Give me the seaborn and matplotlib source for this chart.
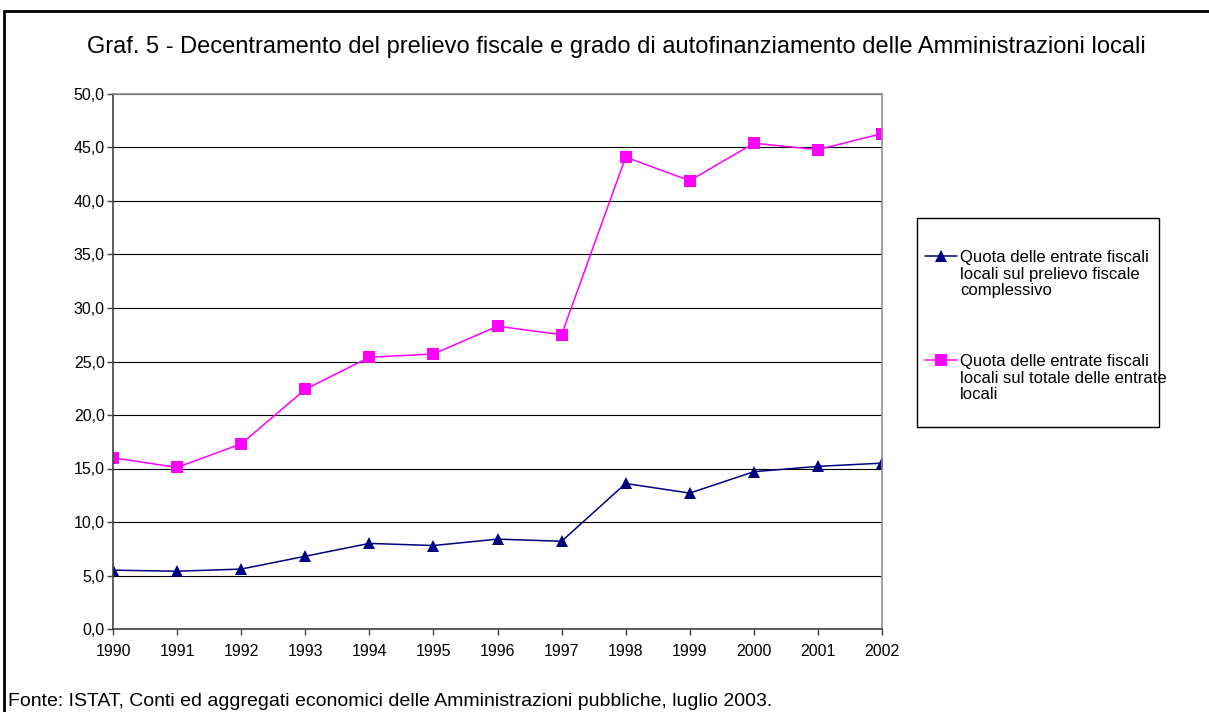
import matplotlib
matplotlib.use("Agg")
import matplotlib.pyplot as plt
import matplotlib.patches as patches
from matplotlib.lines import Line2D
from matplotlib.ticker import FuncFormatter, MultipleLocator
import pandas as pd
import seaborn as sns

years = list(range(1990, 2003))
quota_prelievo = [5.5, 5.4, 5.6, 6.8, 8.0, 7.8, 8.4, 8.2, 13.6, 12.7, 14.7, 15.2, 15.5]
quota_entrate = [16.0, 15.1, 17.3, 22.4, 25.4, 25.7, 28.3, 27.5, 44.1, 41.9, 45.4, 44.8, 46.3]

label_prelievo = "Quota delle entrate fiscali\nlocali sul prelievo fiscale\ncomplessivo"
label_entrate = "Quota delle entrate fiscali\nlocali sul totale delle entrate\nlocali"
title = ("Graf. 5 - Decentramento del prelievo fiscale e grado di autofinanziamento "
         "delle Amministrazioni locali")
source = ("Fonte: ISTAT, Conti ed aggregati economici delle Amministrazioni pubbliche, "
          "luglio 2003.")

df = pd.DataFrame({
    "anno": years * 2,
    "valore": quota_prelievo + quota_entrate,
    "serie": [label_prelievo] * len(years) + [label_entrate] * len(years),
})

sns.set_theme(style="white")
plt.rcParams["font.family"] = ["Liberation Sans", "DejaVu Sans"]
plt.rcParams["text.color"] = "black"

W, H = 1209, 712
fig = plt.figure(figsize=(W / 100, H / 100), dpi=100)
ax = fig.add_axes([113 / W, 1 - 629 / H, (882 - 113) / W, (629 - 94) / H])

sns.lineplot(data=df, x="anno", y="valore", hue="serie", style="serie",
             palette={label_prelievo: "#000080", label_entrate: "#FF00FF"},
             markers={label_prelievo: "^", label_entrate: "s"}, dashes=False,
             markersize=8, markeredgewidth=0, linewidth=1.1, ax=ax)

ax.set_xlim(1990, 2002)
ax.set_ylim(0, 50)
ax.xaxis.set_major_locator(MultipleLocator(1))
ax.yaxis.set_major_locator(MultipleLocator(5))
ax.yaxis.set_major_formatter(FuncFormatter(lambda v, p: f"{v:.1f}".replace(".", ",")))
ax.set_xlabel("")
ax.set_ylabel("")
ax.grid(axis="y", color="black", linewidth=0.8)
ax.set_axisbelow(True)
for side in ["left", "bottom"]:
    ax.spines[side].set_color("#404040")
    ax.spines[side].set_linewidth(1.2)
for side in ["top", "right"]:
    ax.spines[side].set_color("#909090")
    ax.spines[side].set_linewidth(1.2)
ax.tick_params(axis="both", bottom=True, left=True, direction="out", length=4,
               width=1, color="#404040", labelsize=11.5, labelcolor="black")
ax.tick_params(axis="x", pad=7)
ax.tick_params(axis="y", pad=2)

handles, labels = ax.get_legend_handles_labels()
ax.legend_.remove()
leg = fig.legend(handles, labels, loc="upper left", bbox_to_anchor=(925 / W, 1 - 250 / H),
                 bbox_transform=fig.transFigure, frameon=False, fontsize=12,
                 handlelength=1.9, handletextpad=0.2, borderpad=0, borderaxespad=0,
                 labelspacing=3.35)
for t in leg.get_texts():
    t.set_linespacing(1.13)
    t.set_color("black")
for col in leg._legend_handle_box.get_children():
    for row in col.get_children():
        row.align = "top"

fig.add_artist(patches.Rectangle((917 / W, 1 - 427 / H), (1159 - 917) / W, (427 - 218) / H,
                                 fill=False, edgecolor="black", linewidth=1,
                                 transform=fig.transFigure))

fig.text(616 / W, 1 - 47 / H, title, ha="center", va="center", fontsize=17)
fig.text(8 / W, 1 - 701 / H, source, ha="left", va="center", fontsize=14)

fig.add_artist(Line2D([4 / W, 4 / W], [0, 1 - 11 / H], color="black", linewidth=2,
                      transform=fig.transFigure))
fig.add_artist(Line2D([4 / W, 1], [1 - 11 / H, 1 - 11 / H], color="black", linewidth=2,
                      transform=fig.transFigure))

fig.savefig("out.png", dpi=100)
